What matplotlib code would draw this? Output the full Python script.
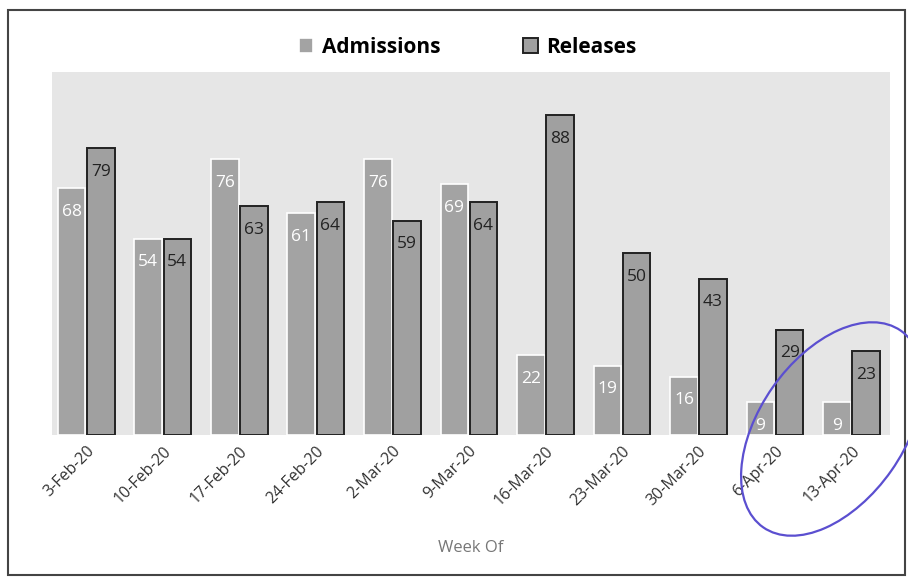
import numpy as np
import matplotlib.pyplot as plt
from matplotlib.patches import Rectangle, Ellipse
from matplotlib.transforms import IdentityTransform

weeks = ["3-Feb-20", "10-Feb-20", "17-Feb-20", "24-Feb-20", "2-Mar-20", "9-Mar-20",
         "16-Mar-20", "23-Mar-20", "30-Mar-20", "6-Apr-20", "13-Apr-20"]
admissions = [68, 54, 76, 61, 76, 69, 22, 19, 16, 9, 9]
releases = [79, 54, 63, 64, 59, 64, 88, 50, 43, 29, 23]

plt.rcParams["font.family"] = ["Open Sans", "DejaVu Sans"]

fig = plt.figure(figsize=(9.08, 5.79), dpi=100)
fig.patch.set_facecolor("white")
ax = fig.add_axes([0.057, 0.249, 0.923, 0.627])
ax.set_facecolor("#e6e6e6")

x = np.arange(len(weeks))
w = 0.36
b1 = ax.bar(x - w / 2 - 0.01, admissions, w, color="#a3a3a3", edgecolor="white",
            linewidth=1.2, label="Admissions")
b2 = ax.bar(x + w / 2 + 0.01, releases, w, color="#a0a0a0", edgecolor="#222222",
            linewidth=1.4, label="Releases")

# value labels just inside the top of each bar
for rect, v in zip(b1, admissions):
    ax.annotate(str(v), (rect.get_x() + rect.get_width() / 2, v),
                xytext=(0, -17), textcoords="offset points", ha="center", va="center",
                color="white", fontsize=12.5)
for rect, v in zip(b2, releases):
    ax.annotate(str(v), (rect.get_x() + rect.get_width() / 2, v),
                xytext=(0, -17), textcoords="offset points", ha="center", va="center",
                color="#222222", fontsize=12.5)

ax.set_xlim(-0.45, 10.5)
ax.set_ylim(0, 100)
ax.set_yticks([])
ax.set_xticks(x)
ax.set_xticklabels(weeks, rotation=45, ha="right", rotation_mode="anchor",
                   fontsize=11.5, color="#333333")
ax.tick_params(axis="x", length=0, pad=6)
for s in ax.spines.values():
    s.set_visible(False)

ax.set_xlabel("Week Of", fontsize=12, color="#777777")
ax.xaxis.set_label_coords(0.5, -0.29)

fig.legend(handles=[b1, b2], loc="center", bbox_to_anchor=(0.515, 0.918), ncol=2,
           frameon=False, handlelength=0.7, handleheight=0.7,
           columnspacing=4, handletextpad=0.4,
           prop={"weight": "bold", "size": 15})

# frame of the photographed page
fig.add_artist(Rectangle((0.009, 0.007), 0.988, 0.975, transform=fig.transFigure,
                         fill=False, edgecolor="#444444", linewidth=1.5))

# hand-drawn pen loop around the last week (pixel coords)
fig.add_artist(Ellipse((832, 150), 145, 240, angle=-35, transform=IdentityTransform(),
                       fill=False, edgecolor="#5b4fd0", linewidth=1.6))

fig.savefig("out.png", dpi=100)
